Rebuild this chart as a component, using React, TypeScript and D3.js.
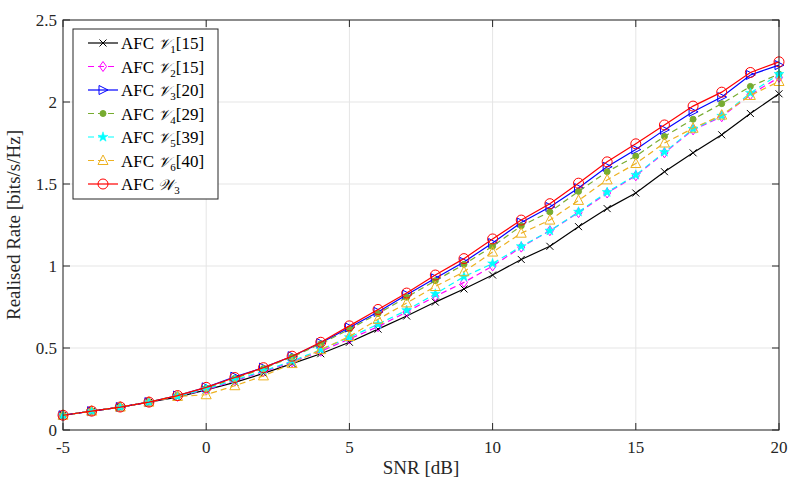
import * as d3 from "d3";

const snr = [-5, -4, -3, -2, -1, 0, 1, 2, 3, 4, 5, 6, 7, 8, 9, 10, 11, 12, 13, 14, 15, 16, 17, 18, 19, 20];

const v1 = [0.09, 0.115, 0.14, 0.17, 0.2, 0.245, 0.29, 0.345, 0.405, 0.465, 0.535, 0.615, 0.695, 0.78, 0.86, 0.945, 1.04, 1.12, 1.24, 1.35, 1.445, 1.575, 1.69, 1.8, 1.93, 2.05];
const v2 = [0.09, 0.115, 0.14, 0.17, 0.205, 0.245, 0.3, 0.355, 0.415, 0.48, 0.555, 0.63, 0.72, 0.815, 0.9, 1.0, 1.115, 1.215, 1.325, 1.445, 1.55, 1.69, 1.83, 1.91, 2.045, 2.15];
const v3 = [0.09, 0.115, 0.14, 0.17, 0.21, 0.26, 0.325, 0.38, 0.45, 0.53, 0.625, 0.72, 0.825, 0.925, 1.025, 1.14, 1.265, 1.36, 1.475, 1.605, 1.71, 1.83, 1.94, 2.03, 2.165, 2.225];
const v4 = [0.09, 0.115, 0.14, 0.17, 0.21, 0.255, 0.315, 0.375, 0.445, 0.525, 0.615, 0.71, 0.81, 0.91, 1.01, 1.12, 1.245, 1.33, 1.455, 1.575, 1.67, 1.79, 1.895, 1.99, 2.095, 2.17];
const v5 = [0.09, 0.115, 0.14, 0.17, 0.205, 0.25, 0.305, 0.36, 0.42, 0.49, 0.565, 0.645, 0.73, 0.83, 0.935, 1.015, 1.12, 1.215, 1.33, 1.45, 1.555, 1.695, 1.835, 1.915, 2.055, 2.17];
const v6 = [0.09, 0.115, 0.14, 0.17, 0.205, 0.215, 0.27, 0.33, 0.405, 0.49, 0.57, 0.675, 0.775, 0.875, 0.965, 1.085, 1.2, 1.28, 1.4, 1.525, 1.625, 1.75, 1.84, 1.92, 2.04, 2.125];
const w3 = [0.09, 0.115, 0.14, 0.17, 0.21, 0.26, 0.32, 0.38, 0.45, 0.535, 0.635, 0.735, 0.835, 0.945, 1.045, 1.165, 1.28, 1.38, 1.505, 1.635, 1.745, 1.86, 1.975, 2.06, 2.18, 2.245];

const xTicks = [-5, 0, 5, 10, 15, 20];
const yTicks = [0, 0.5, 1, 1.5, 2, 2.5];

type S = { letter: string; sub: string; ref: string; values: number[]; color: string; dash: string | null; marker: string };

const series: S[] = [
  { letter: "𝒱", sub: "1", ref: "[15]", values: v1, color: "#000000", dash: null, marker: "x" },
  { letter: "𝒱", sub: "2", ref: "[15]", values: v2, color: "#ff00ff", dash: "6,4", marker: "diamond" },
  { letter: "𝒱", sub: "3", ref: "[20]", values: v3, color: "#0000ff", dash: null, marker: "tri-right" },
  { letter: "𝒱", sub: "4", ref: "[29]", values: v4, color: "#77ac30", dash: "6,4", marker: "dot" },
  { letter: "𝒱", sub: "5", ref: "[39]", values: v5, color: "#00ffff", dash: "6,4", marker: "hexagram" },
  { letter: "𝒱", sub: "6", ref: "[40]", values: v6, color: "#edb120", dash: "6,4", marker: "tri-up" },
  { letter: "𝒲", sub: "3", ref: "", values: w3, color: "#ff0000", dash: null, marker: "circle" },
];

const W = 789;
const H = 480;
const m = { left: 63, right: 779, top: 20, bottom: 430 };
const axisColor = "#262626";
const font = "'Liberation Serif', 'Times New Roman', serif";

function Marker({ type, color, x, y }: { type: string; color: string; x: number; y: number }) {
  const t = `translate(${x},${y})`;
  if (type === "x")
    return <path transform={t} d="M-3.5,-3.5L3.5,3.5M-3.5,3.5L3.5,-3.5" stroke={color} strokeWidth={1} fill="none" />;
  if (type === "diamond")
    return <path transform={t} d="M0,-5L3.5,0L0,5L-3.5,0Z" stroke={color} strokeWidth={1} fill="none" />;
  if (type === "tri-right")
    return <path transform={t} d="M5,0L-4,-4.5L-4,4.5Z" stroke={color} strokeWidth={1} fill="none" />;
  if (type === "tri-up")
    return <path transform={t} d="M0,-5.5L5,4L-5,4Z" stroke={color} strokeWidth={1} fill="none" />;
  if (type === "dot") return <circle cx={x} cy={y} r={3} fill={color} stroke={color} />;
  if (type === "circle") return <circle cx={x} cy={y} r={5} fill="none" stroke={color} strokeWidth={1} />;
  if (type === "hexagram") {
    const star = d3.symbol().type(d3.symbolStar).size(30)();
    return (
      <g transform={t}>
        <path d={star || ""} fill={color} stroke={color} strokeWidth={0.6} />
      </g>
    );
  }
  return null;
}

export default function App() {
  const x = d3.scaleLinear().domain([-5, 20]).range([m.left, m.right]);
  const y = d3.scaleLinear().domain([0, 2.5]).range([m.bottom, m.top]);
  const line = d3
    .line<number>()
    .x((_, i) => x(snr[i]))
    .y((d) => y(d));

  const legX = 73;
  const legY = 29;
  const legW = 145;
  const legH = 170;
  const rowH = 23.5;

  return (
    <svg width={W} height={H} style={{ position: "absolute", left: 0, top: 0, background: "#fff" }}>
      <rect x={0} y={0} width={W} height={H} fill="#fff" />
      {/* grid */}
      {xTicks.map((t) => (
        <line key={"gx" + t} x1={x(t)} x2={x(t)} y1={m.top} y2={m.bottom} stroke="#e5e5e5" strokeWidth={1} />
      ))}
      {yTicks.map((t) => (
        <line key={"gy" + t} x1={m.left} x2={m.right} y1={y(t)} y2={y(t)} stroke="#e5e5e5" strokeWidth={1} />
      ))}

      {/* series */}
      {series.map((s, si) => (
        <g key={"s" + si}>
          <path d={line(s.values) || ""} fill="none" stroke={s.color} strokeWidth={1.2} strokeDasharray={s.dash || undefined} />
          {s.values.map((v, i) => (
            <Marker key={i} type={s.marker} color={s.color} x={x(snr[i])} y={y(v)} />
          ))}
        </g>
      ))}

      {/* axes box and ticks */}
      <rect x={m.left} y={m.top} width={m.right - m.left} height={m.bottom - m.top} fill="none" stroke={axisColor} strokeWidth={1} />
      {xTicks.map((t) => (
        <g key={"tx" + t}>
          <line x1={x(t)} x2={x(t)} y1={m.bottom} y2={m.bottom - 7} stroke={axisColor} />
          <line x1={x(t)} x2={x(t)} y1={m.top} y2={m.top + 7} stroke={axisColor} />
          <text x={x(t)} y={453} textAnchor="middle" fontFamily={font} fontSize={17} fill={axisColor}>
            {t}
          </text>
        </g>
      ))}
      {yTicks.map((t) => (
        <g key={"ty" + t}>
          <line x1={m.left} x2={m.left + 7} y1={y(t)} y2={y(t)} stroke={axisColor} />
          <line x1={m.right} x2={m.right - 7} y1={y(t)} y2={y(t)} stroke={axisColor} />
          <text x={57} y={y(t) + 6} textAnchor="end" fontFamily={font} fontSize={17} fill={axisColor}>
            {t}
          </text>
        </g>
      ))}

      {/* axis labels */}
      <text x={(m.left + m.right) / 2} y={474} textAnchor="middle" fontFamily={font} fontSize={19} fill={axisColor}>
        SNR [dB]
      </text>
      <text
        transform={`translate(20,${(m.top + m.bottom) / 2}) rotate(-90)`}
        textAnchor="middle"
        fontFamily={font}
        fontSize={19}
        fill={axisColor}
      >
        Realised Rate [bits/s/Hz]
      </text>

      {/* legend */}
      <rect x={legX} y={legY} width={legW} height={legH} fill="#fff" stroke={axisColor} strokeWidth={1} />
      {series.map((s, i) => {
        const cy = legY + 14 + i * rowH;
        return (
          <g key={"l" + i}>
            <line x1={88} x2={118} y1={cy} y2={cy} stroke={s.color} strokeWidth={1.2} strokeDasharray={s.dash || undefined} />
            <Marker type={s.marker} color={s.color} x={103} y={cy} />
            <text x={121} y={cy + 6} fontFamily={font} fontSize={17} fill="#000">
              AFC{" "}
              <tspan fontStyle="italic" fontFamily="'DejaVu Serif', serif" fontSize={15}>
                {s.letter}
              </tspan>
              <tspan fontSize={11} dy={4}>
                {s.sub}
              </tspan>
              <tspan dy={-4}>{s.ref}</tspan>
            </text>
          </g>
        );
      })}
    </svg>
  );
}
